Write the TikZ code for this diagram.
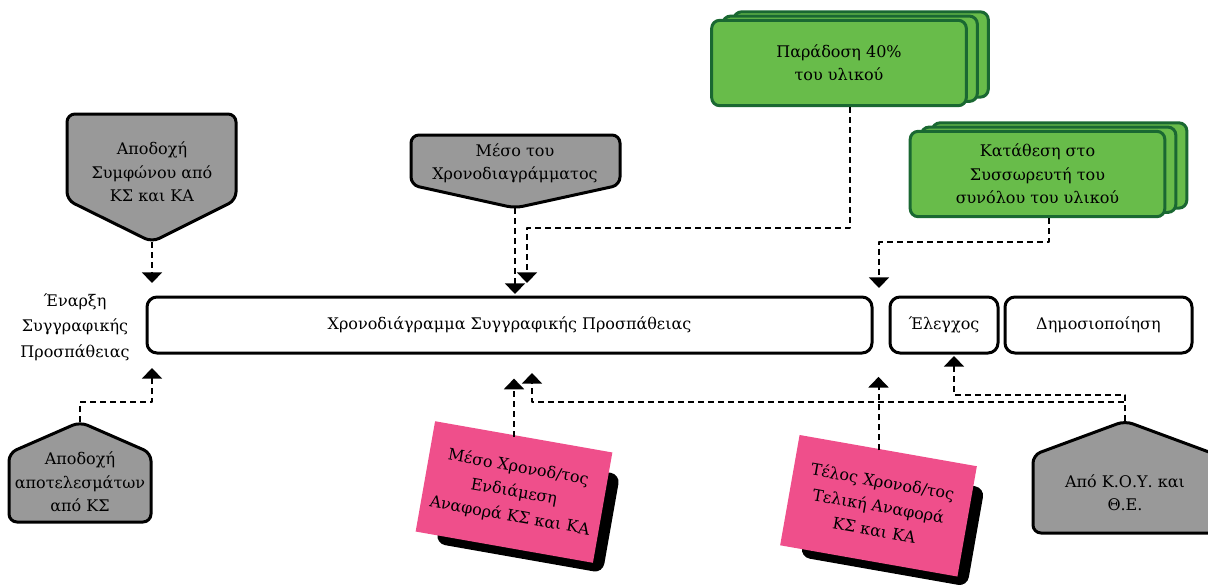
\documentclass[tikz,border=0pt]{standalone}
\usepackage{fontspec}
\setmainfont{DejaVu Serif}
\usetikzlibrary{arrows.meta,shadows}
\definecolor{greyfill}{RGB}{153,153,153}
\definecolor{leaf}{RGB}{104,188,74}
\definecolor{leafdark}{RGB}{26,104,50}
\definecolor{notepink}{RGB}{239,79,139}
\begin{document}
\begin{tikzpicture}[x=0.75pt, y=-0.75pt, >={Triangle[width=15pt,length=8pt]},
  font=\fontsize{12}{17.5}\selectfont, line join=round,
  phase/.style={draw, line width=2.25pt, rounded corners=7.5pt, minimum height=42pt, inner sep=0pt},
  marker/.style={draw, line width=2.25pt, rounded corners=6pt, fill=greyfill},
  stack/.style={draw=leafdark, line width=2.25pt, fill=leaf, rounded corners=6pt,
    minimum width=191pt, minimum height=64pt, align=center,
    double copy shadow={shadow xshift=8.25pt, shadow yshift=3.2pt}},
  note/.style={fill=notepink, rotate=-10, minimum width=135pt, minimum height=84pt, align=center,
    inner sep=0pt, font=\fontsize{12}{18.5}\selectfont},
  noteshade/.style={fill=black, rotate=-10, rounded corners=7pt, minimum width=127pt, minimum height=75pt},
  dep/.style={->, line width=1.5pt, dash pattern=on 4.5pt off 3pt}]
\useasboundingbox (0,0) rectangle (1208,586);

% time line
\node[phase, minimum width=543.75pt] (plan) at (509.5,325) {Χρονοδιάγραμμα Συγγραφικής Προσπάθειας};
\node[phase, minimum width=81pt] (check) at (944,325) {Έλεγχος};
\node[phase, minimum width=140.25pt] (publish) at (1098.5,325) {Δημοσιοποίηση};
\node[align=center, font=\fontsize{12}{19}\selectfont] (start) at (75,327) {Έναρξη\\Συγγραφικής\\Προσπάθειας};

% milestones
\draw[marker] (67,114) -- (236,114) -- (236,200) -- (152,242) -- (67,200) -- cycle;
\coordinate (agreetip) at (152,242);
\node[align=center] (agree) at (152,172) {Αποδοχή\\Συμφώνου από\\ΚΣ και ΚΑ};
\draw[marker] (411,135) -- (620,135) -- (620,185) -- (515,208) -- (411,185) -- cycle;
\coordinate (midtip) at (515,208);
\node[align=center] (mid) at (515,163) {Μέσο του\\Χρονοδιαγράμματος};
\draw[marker] (80,422) -- (151,453) -- (151,522) -- (9,522) -- (9,453) -- cycle;
\coordinate (resultstip) at (80,422);
\node[align=center] (results) at (80,482) {Αποδοχή\\αποτελεσμάτων\\από ΚΣ};
\draw[marker] (1125,421) -- (1217,455) -- (1217,533) -- (1033,533) -- (1033,455) -- cycle;
\coordinate (koutip) at (1125,421);
\node[align=center] (kou) at (1125,493) {Από Κ.Ο.Υ. και\\Θ.Ε.};

% deliverables
\node[stack] (deliv) at (839,63) {Παράδοση 40\%\\του υλικού};
\node[stack] (archive) at (1037.5,174) {Κατάθεση στο\\Συσσωρευτή του\\συνόλου του υλικού};

% reports
\node[noteshade] (midshade) at (528,509) {};
\node[note] (midnote) at (514,492) {Μέσο Χρονοδ/τος\\Ενδιάμεση\\Αναφορά ΚΣ και ΚΑ};
\node[noteshade] (endshade) at (892.5,522.5) {};
\node[note] (endnote) at (878.5,505.75) {Τέλος Χρονοδ/τος\\Τελική Αναφορά\\ΚΣ και ΚΑ};

% links
\draw[dep] (agreetip) -- ++(0,41);
\draw[dep] (midtip) -- ++(0,86);
\draw[dep] ([xshift=8.25pt]deliv.south) -- ++(0,121) -| (527,283);
\draw[dep] ([xshift=8.25pt]archive.south) -- ++(0,24) -| (879,288);
\draw[dep] (resultstip) -- ++(0,-20) -| (152,368);
\draw[dep] (midnote.center |- midnote.north) -- ++(0,-58);
\draw[dep] (endnote.center |- endnote.north) -- ++(0,-73.5);
\draw[dep] (koutip) -- ++(0,-26) -| (954,356);
\draw[dep] (koutip) -- ++(0,-19) -| (532,373);
\end{tikzpicture}
\end{document}
